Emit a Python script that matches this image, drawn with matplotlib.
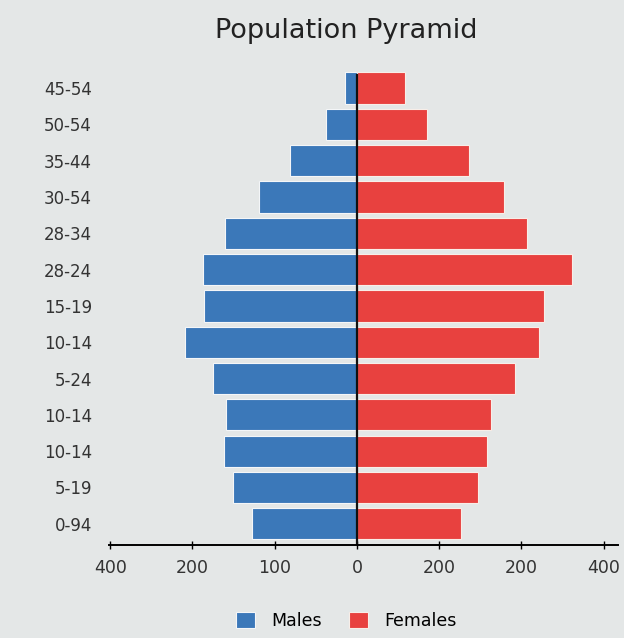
import matplotlib.pyplot as plt
import numpy as np

# age groups, top to bottom as printed on the chart
age_groups = ['45-54', '50-54', '35-44', '30-54', '28-34', '28-24', '15-19',
              '10-14', '5-24', '10-14', '10-14', '5-19', '0-94']
males = [15, 38, 81, 119, 160, 187, 186, 209, 175, 159, 162, 151, 128]
females = [58, 85, 136, 179, 207, 261, 227, 221, 192, 163, 158, 147, 126]

# x ticks are evenly spaced but labelled oddly in the original
xtick_pos = [-300, -200, -100, 0, 100, 200, 300]
xtick_labels = ['400', '200', '100', '0', '200', '200', '400']

bg = '#e4e7e7'
fig = plt.figure(figsize=(6.24, 6.38), dpi=100, facecolor=bg)
ax = fig.add_axes([0.174, 0.146, 0.817, 0.7445], facecolor=bg)

y = np.arange(len(age_groups))[::-1]
ax.barh(y, [-m for m in males], height=0.86, color='#3b78b9',
        edgecolor='#f4f6f8', linewidth=0.8, label='Males')
ax.barh(y, females, height=0.86, color='#e8413f',
        edgecolor='#f8eee8', linewidth=0.8, label='Females')
ax.axvline(0, ymin=0, ymax=0.99, color='#111111', lw=1.6)

ax.set_xlim(-302, 318)
ax.set_ylim(-0.58, 12.5)
ax.set_yticks(y)
ax.set_yticklabels(age_groups, fontsize=12, color='#333333')
ax.tick_params(axis='y', length=0, pad=12)
ax.set_xticks(xtick_pos)
ax.set_xticklabels(xtick_labels, fontsize=12.5, color='#333333')
ax.tick_params(axis='x', direction='inout', length=6, width=1, pad=7)

for s in ['top', 'right', 'left']:
    ax.spines[s].set_visible(False)
ax.spines['bottom'].set_linewidth(1.4)
ax.spines['bottom'].set_bounds(-302, 318)

fig.text(0.555, 0.952, 'Population Pyramid', ha='center', va='center',
         fontsize=19.5, color='#222222')

fig.legend(loc='lower center', bbox_to_anchor=(0.555, -0.012), ncol=2,
           frameon=False, fontsize=12.5, handlelength=1.1, handleheight=1.1,
           columnspacing=1.6, handletextpad=0.9)

fig.savefig('out.png', dpi=100, facecolor=bg)
